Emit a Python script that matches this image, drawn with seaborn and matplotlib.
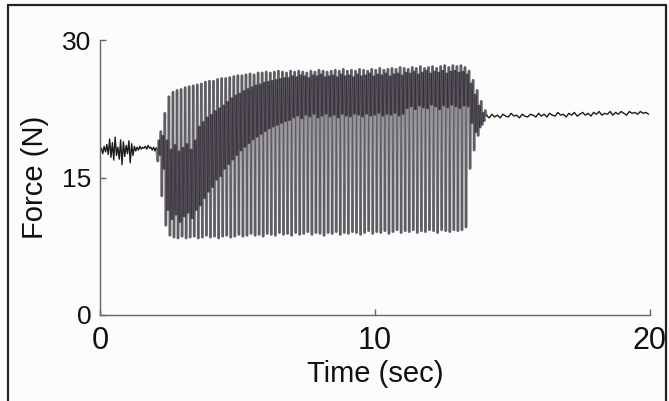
import numpy as np
import pandas as pd
import seaborn as sns
import matplotlib
matplotlib.use("Agg")
import matplotlib.pyplot as plt
from matplotlib.lines import Line2D

# Resting force before tapping (sampled every 0.05 s from t = 0)
rest_force = [17.9, 18.2, 17.6, 18.4, 17.8, 18.6, 17.5, 19.2, 17.2, 18.8,
              16.9, 19.4, 17.4, 18.3, 17.0, 19.1, 16.4, 18.9, 17.3, 18.5,
              17.6, 19.0, 16.6, 18.7, 17.4, 18.4, 17.9, 18.3, 18.0, 18.4,
              18.1, 18.3, 18.2, 18.4, 18.1, 18.5, 18.2, 18.3, 18.0, 18.3,
              17.9, 18.2]

# Per-tap force levels during the tapping phase (one entry per tap)
tap_peak = [20.0, 22.0, 23.8, 24.3, 24.5, 24.6, 24.8, 24.9, 25.0, 25.1,
            25.2, 25.4, 25.5, 25.5, 25.7, 25.8, 25.8, 25.9, 26.0, 26.1,
            26.1, 26.2, 26.3, 26.2, 26.4, 26.4, 26.5, 26.4, 26.5, 26.6,
            26.5, 26.4, 26.6, 26.5, 26.6, 26.5, 26.4, 26.6, 26.5, 26.7,
            26.6, 26.5, 26.6, 26.7, 26.6, 26.8, 26.6, 26.7, 26.6, 26.8,
            26.7, 26.6, 26.8, 26.7, 26.9, 26.7, 26.8, 26.9, 26.8, 27.0,
            26.9, 26.8, 27.0, 26.9, 27.1, 26.9, 27.0, 27.1, 26.9, 27.1,
            27.2, 27.0, 27.2, 27.1, 27.2, 27.0, 26.6, 25.6, 24.5, 23.3,
            22.3]
tap_trough = [16.8, 13.0, 9.8, 8.7, 8.5, 8.4, 8.6, 8.4, 8.5, 8.6,
              8.4, 8.5, 8.7, 8.5, 8.6, 8.4, 8.6, 8.7, 8.5, 8.6,
              8.8, 8.6, 8.7, 8.9, 8.7, 8.8, 8.6, 8.9, 8.8, 8.7,
              9.0, 8.8, 8.9, 8.7, 9.0, 8.8, 8.9, 9.1, 8.8, 9.0,
              8.9, 8.7, 9.0, 8.9, 9.1, 8.8, 9.0, 8.9, 9.1, 9.0,
              8.8, 9.0, 9.2, 8.9, 9.1, 9.0, 9.2, 8.9, 9.1, 9.3,
              9.0, 9.2, 9.1, 9.3, 9.0, 9.2, 9.1, 9.3, 9.2, 9.0,
              9.3, 9.2, 9.1, 9.3, 9.2, 9.3, 9.6, 16.0, 18.0, 19.6,
              20.8]
# Shoulder and notch of the double-peaked force profile within each tap
tap_shoulder = [19.0, 19.5, 19.0, 18.0, 18.5, 17.8, 18.2, 18.6, 18.0, 19.0,
                20.5, 21.0, 21.5, 21.8, 22.2, 22.5, 22.8, 23.2, 23.6, 23.9,
                24.1, 24.4, 24.6, 24.8, 25.0, 25.1, 25.3, 25.4, 25.5, 25.6,
                25.7, 25.8, 25.8, 26.0, 25.9, 26.1, 26.0, 25.8, 26.1, 26.0,
                26.2, 25.9, 26.0, 26.1, 25.9, 26.2, 26.0, 26.1, 25.9, 26.2,
                26.0, 26.1, 26.3, 26.0, 26.2, 26.1, 26.3, 26.0, 26.2, 26.3,
                26.1, 26.4, 26.3, 26.5, 26.2, 26.4, 26.6, 26.3, 26.5, 26.4,
                26.6, 26.3, 26.5, 26.6, 26.4, 26.5, 26.2, 25.2, 24.0, 22.8,
                22.0]
tap_notch = [17.5, 16.0, 11.5, 10.5, 11.0, 10.2, 10.8, 11.2, 10.6, 11.5,
             12.0, 12.8, 13.5, 14.0, 14.8, 15.2, 16.0, 16.5, 17.0, 17.5,
             18.0, 18.4, 18.8, 19.2, 19.5, 19.8, 20.1, 20.4, 20.6, 20.8,
             21.0, 21.2, 21.3, 21.6, 21.8, 21.5, 21.9, 21.7, 22.0, 21.6,
             21.8, 22.0, 21.7, 21.9, 21.6, 22.0, 21.8, 21.7, 22.0, 21.9,
             21.7, 22.0, 21.8, 21.9, 22.1, 21.8, 22.0, 21.9, 22.1, 21.8,
             22.0, 22.6, 22.8, 22.5, 22.9, 22.7, 22.6, 23.0, 22.8, 22.5,
             22.9, 22.7, 23.0, 22.8, 22.6, 22.9, 22.8, 21.0, 20.0, 20.5,
             21.2]

# Holding force after tapping (sampled every 0.1 s)
hold_force = [21.8, 21.5, 21.9, 21.6, 21.8, 21.5, 21.9, 21.7, 21.6, 22.0,
              21.7, 21.8, 21.5, 21.9, 21.7, 21.6, 21.9, 21.8, 21.6, 22.0,
              21.7, 21.9, 21.6, 22.0, 21.8, 21.7, 22.1, 21.8, 21.9, 21.6,
              22.0, 21.8, 22.1, 21.7, 21.9, 22.1, 21.8, 22.0, 21.7, 22.1,
              21.9, 22.2, 21.8, 22.0, 21.9, 22.2, 21.8, 22.1, 21.9, 22.2,
              22.0, 21.8, 22.2, 22.0, 22.1, 21.9, 22.2, 22.0, 22.1, 21.9]

# Sampling grids for the three phases
rest_t = np.arange(len(rest_force)) * 0.05
tap_period = 0.1475
tap_vals = np.column_stack([tap_trough, tap_shoulder, tap_notch, tap_peak]).ravel()
tap_t = 2.1 + np.arange(len(tap_vals)) * tap_period / 4
hold_t = 14.05 + np.arange(len(hold_force)) * 0.1

rest_df = pd.DataFrame({"t": rest_t, "f": rest_force})
hold_df = pd.DataFrame({"t": hold_t, "f": hold_force})

# Tapping phase: each stroke between consecutive samples is its own unit,
# so overlapping strokes build up darker where the force dwells
seg_t = np.concatenate([[rest_t[-1]], tap_t, [hold_t[0]]])
seg_f = np.concatenate([[rest_force[-1]], tap_vals, [hold_force[0]]])
n_seg = len(seg_t) - 1
strokes = pd.DataFrame({
    "stroke": np.repeat(np.arange(n_seg), 2),
    "t": np.column_stack([seg_t[:-1], seg_t[1:]]).ravel(),
    "f": np.column_stack([seg_f[:-1], seg_f[1:]]).ravel(),
})

sns.set_theme(style="ticks")
plt.rcParams["font.family"] = ["Liberation Sans", "DejaVu Sans"]

W, H = 669, 401
bg = "#fcfcfc"
fig = plt.figure(figsize=(W / 100, H / 100), dpi=100, facecolor=bg)
ax = fig.add_axes([100 / W, 1 - 315 / H, 550 / W, 275 / H])
ax.set_facecolor(bg)

sns.lineplot(data=strokes, x="t", y="f", units="stroke", estimator=None,
             sort=False, color="#120c18", alpha=0.42, lw=2.0, ax=ax)
sns.lineplot(data=rest_df, x="t", y="f", sort=False, estimator=None,
             color="#1c1c1c", lw=1.0, ax=ax)
sns.lineplot(data=hold_df, x="t", y="f", sort=False, estimator=None,
             color="#1c1c1c", lw=1.0, ax=ax)

ax.set_xlim(0, 20)
ax.set_ylim(0, 30)
ax.set_xticks([0, 10, 20])
ax.set_yticks([0, 15, 30])
sns.despine(ax=ax)
for side in ("left", "bottom"):
    ax.spines[side].set_color("#666666")
    ax.spines[side].set_linewidth(1.0)
ax.tick_params(direction="in", length=4, width=1, colors="#666666",
               labelcolor="#111111", labelsize=19)
ax.tick_params(axis="x", pad=8, labelsize=22)
ax.tick_params(axis="y", pad=6)
ax.set_xlabel("Time (sec)", fontsize=21, color="#111111", labelpad=3)
ax.set_ylabel("Force (N)", fontsize=21, color="#111111", labelpad=10)

# Panel frame around the figure
def px_line(xs, ys):
    fig.add_artist(Line2D([x / W for x in xs], [1 - y / H for y in ys],
                          transform=fig.transFigure, color="#222222", lw=1.6))

px_line([8, 8], [5, H + 5])
px_line([8, 666], [5, 5])
px_line([666, 666], [5, H + 5])

fig.savefig("out.png", dpi=100, facecolor=fig.get_facecolor())
